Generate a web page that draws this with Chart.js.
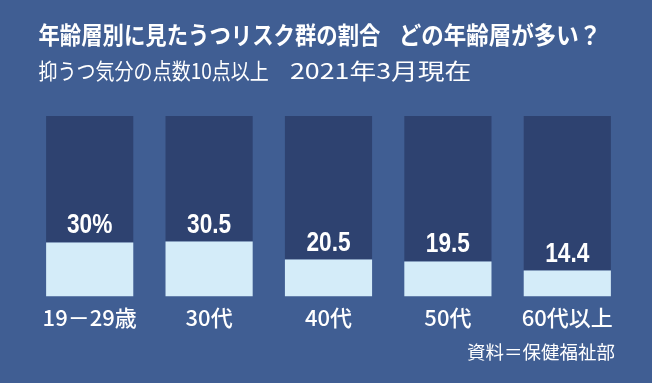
<!DOCTYPE html>
<html>
<head>
<meta charset="utf-8">
<script src="https://cdn.jsdelivr.net/npm/chart.js@4"></script>
<style>
  html, body { margin: 0; padding: 0; background: #405e93; }
  #wrap { width: 652px; height: 383px; position: relative; }
</style>
</head>
<body>
<div id="wrap"><canvas id="chart"></canvas></div>
<script>
// data (percent of each age group)
var ageGroups = ['19－29歳', '30代', '40代', '50代', '60代以上'];
var riskRates = [30, 30.5, 20.5, 19.5, 14.4];
var rateLabels = ['30%', '30.5', '20.5', '19.5', '14.4'];
var titleParts = ['年齢層別に見たうつリスク群の割合', 'どの年齢層が多い？'];
var subtitleParts = ['抑うつ気分の点数10点以上', '2021年3月現在'];
var sourceText = '資料＝保健福祉部';

var rest = riskRates.map(v => 100 - v);
var jp = '"Noto Sans CJK JP", "Noto Sans", sans-serif';

// draws text squeezed horizontally (the original uses a condensed face)
function narrowText(ctx, text, x, y, sx) {
    ctx.save();
    ctx.translate(x, y);
    ctx.scale(sx, 1);
    ctx.fillText(text, 0, 0);
    ctx.restore();
}

// fits the ink of a heading piece between two x positions
function fitText(ctx, text, x0, x1, y) {
    var m = ctx.measureText(text);
    var ink = m.actualBoundingBoxLeft + m.actualBoundingBoxRight;
    var sx = (x1 - x0) / ink;
    narrowText(ctx, text, x0 + m.actualBoundingBoxLeft * sx, y, sx);
}

// headings, value labels above the light part, source note
var textPlugin = {
    id: 'texts',
    afterDatasetsDraw: function (chart) {
        var ctx = chart.ctx;
        var meta = chart.getDatasetMeta(0);
        ctx.save();
        ctx.fillStyle = '#ffffff';

        ctx.textBaseline = 'middle';
        ctx.textAlign = 'left';
        ctx.font = 'bold 24px ' + jp;
        fitText(ctx, titleParts[0], 38.5, 380.5, 35);
        fitText(ctx, titleParts[1], 401.5, 596.5, 35);
        ctx.font = '22px ' + jp;
        fitText(ctx, subtitleParts[0], 38.5, 268, 71);
        fitText(ctx, subtitleParts[1], 290, 470, 71);

        ctx.textAlign = 'center';
        ctx.textBaseline = 'alphabetic';
        ctx.font = 'bold 27px "Liberation Sans", Arial, sans-serif';
        meta.data.forEach(function (bar, i) {
            narrowText(ctx, rateLabels[i], bar.x, bar.y - 9, 0.84);
        });

        ctx.font = '18.5px ' + jp;
        ctx.textAlign = 'right';
        ctx.textBaseline = 'middle';
        ctx.fillText(sourceText, chart.chartArea.right - 12, 352);
        ctx.restore();
    }
};

new Chart(document.getElementById('chart'), {
    type: 'bar',
    data: {
        labels: ageGroups,
        datasets: [{
            label: 'うつリスク群',
            data: riskRates,
            backgroundColor: '#d4ecf9',
            categoryPercentage: 1.0,
            barPercentage: 0.73
        }, {
            label: 'その他',
            data: rest,
            backgroundColor: '#2e4270',
            categoryPercentage: 1.0,
            barPercentage: 0.73
        }]
    },
    options: {
        responsive: true,
        maintainAspectRatio: false,
        animation: false,
        layout: {
            padding: { left: 30, right: 25, top: 116, bottom: 44 }
        },
        scales: {
            x: {
                stacked: true,
                grid: { display: false, drawTicks: false },
                border: { display: false },
                ticks: {
                    color: '#ffffff',
                    padding: 8,
                    font: { family: jp, size: 22, weight: 500 }
                }
            },
            y: {
                stacked: true,
                display: false,
                min: 0,
                max: 100
            }
        },
        plugins: {
            legend: { display: false },
            tooltip: { enabled: false },
            title: { display: false }
        }
    },
    plugins: [textPlugin]
});
</script>
</body>
</html>
